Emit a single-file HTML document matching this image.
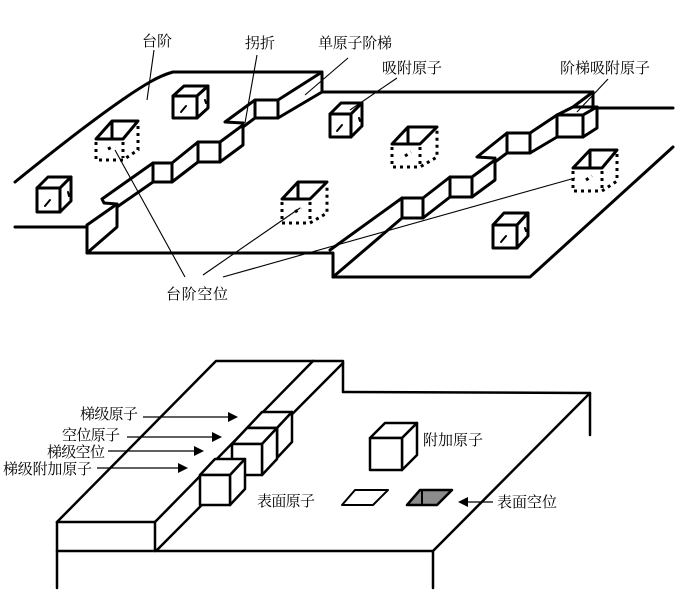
<!DOCTYPE html>
<html><head><meta charset="utf-8"><style>
html,body{margin:0;padding:0;background:#fff;}
svg{display:block;}
text{font-family:"Liberation Serif","Noto Serif CJK SC","Noto Sans CJK SC",serif;font-size:15px;fill:#000;}
</style></head><body>
<svg width="685" height="599" viewBox="0 0 685 599" xmlns="http://www.w3.org/2000/svg">
<g fill="none" stroke="#000" stroke-width="3" stroke-linejoin="round" stroke-linecap="round">
<!-- upper terrace outline -->
<path d="M15,182 Q110,105 150,82 Q162,75 173,72 L322,72 L322,92 L593,92"/>
<!-- upper step top edge -->
<path d="M322,72 L278,100 L255,100 L225,122 L243,123 M243,125 L220,142 L198,142 L172,163 L153,163 L102,199 L104,203 L117,204 L87,225 L87,227 L15,227"/>
<!-- upper step lower edges -->
<path d="M322,92 L278,118 M255,118 L243,127 M243,123 L243,145 L220,162 M198,162 L172,182 M153,182 L117,207 M117,204 L117,227 L87,253 M87,225 L87,253 L333,253 L333,277 L530,277 L673,147"/>
<rect x="255" y="100" width="23" height="18" fill="#fff"/>
<rect x="198" y="142" width="22" height="20" fill="#fff"/>
<rect x="153" y="163" width="19" height="19" fill="#fff"/>
<!-- middle step -->
<path d="M593,92 L593,108 M597,108 L673,108"/>
<path d="M593,92 L573,107"/>
<path d="M557,115 L530,133 M507,133 L477,157 L493,158 M495,160 L472,177 M450,177 L423,198 M402,198 L330,250"/>
<path d="M557,137 L530,153 M507,153 L495,162 M495,158 L495,180 L472,197 M450,197 L423,218 M402,218 L333,277"/>
<polygon points="557,115 573,107 597,107 583,115" fill="#fff"/>
<polygon points="583,115 597,107 597,128 583,137" fill="#fff"/>
<rect x="557" y="115" width="26" height="22" fill="#fff"/>
<rect x="507" y="133" width="23" height="20" fill="#fff"/>
<rect x="450" y="177" width="22" height="20" fill="#fff"/>
<rect x="402" y="198" width="21" height="20" fill="#fff"/>
</g>

<!-- solid cubes (top) -->
<g fill="#fff" stroke="#000" stroke-width="3" stroke-linejoin="round">
<!-- A -->
<polygon points="173,96 184,86 208,86 197,96"/>
<polygon points="197,96 208,86 208,108 197,118"/>
<rect x="173" y="96" width="24" height="22"/>
<!-- B -->
<polygon points="37,188 48,177 71,177 60,188"/>
<polygon points="60,188 71,177 71,201 60,212"/>
<rect x="37" y="188" width="23" height="24"/>
<!-- C -->
<polygon points="330,114 341,103 362,103 351,114"/>
<polygon points="351,114 362,103 362,126 351,137"/>
<rect x="330" y="114" width="21" height="23"/>
<!-- D -->
<polygon points="493,225 504,213 528,213 517,225"/>
<polygon points="517,225 528,213 528,236 517,248"/>
<rect x="493" y="225" width="24" height="23"/>
</g>
<g stroke="#000" stroke-width="2" stroke-linecap="round">
<path d="M181,112 L186,106 M205,100 L206,103 M45,206 L50,200 M68,192 L69,196 M337,131 L342,125 M359,118 L360,121 M501,242 L506,236 M525,228 L526,231"/>
</g>

<!-- vacancies -->
<g fill="none" stroke="#000" stroke-width="3" stroke-linejoin="round">
<polygon points="96,139 112,121 138,121 123,139"/>
<path d="M112,121 L112,140"/>
<polygon points="282,199 298,182 327,182 310,199"/>
<path d="M298,182 L298,199"/>
<polygon points="392,144 408,127 437,127 420,144"/>
<path d="M408,127 L408,144"/>
<polygon points="573,168 590,150 617,150 602,168"/>
<path d="M590,150 L590,168"/>
</g>
<g fill="none" stroke="#000" stroke-width="3" stroke-dasharray="3,4">
<path d="M96,142 L96,160 L123,160 L138,150 L138,124 M123,142 L123,158 M108,149 L114,146"/>
<path d="M282,202 L282,223 L310,223 L327,213 L327,185 M310,202 L310,221 M295,212 L301,208"/>
<path d="M392,147 L392,167 L420,167 L437,157 L437,130 M420,147 L420,165 M405,156 L411,152"/>
<path d="M573,171 L573,191 L602,191 L617,181 L617,153 M602,171 L602,189 M586,180 L592,176"/>
</g>

<!-- leader lines top -->
<g stroke="#000" stroke-width="1.1" fill="none">
<path d="M154,50 L147,100"/>
<path d="M257,55 L245,123"/>
<path d="M348,58 L305,95"/>
<path d="M397,78 L350,110"/>
<path d="M608,79 L577,112"/>
<path d="M185,277 L115,150"/>
<path d="M203,275 L300,208"/>
<path d="M223,277 L575,178"/>
</g>

<!-- top labels -->
<text x="142" y="46">台阶</text>
<text x="245" y="48">拐折</text>
<text x="318" y="48" textLength="74" lengthAdjust="spacing">单原子阶梯</text>
<text x="382" y="73" textLength="60" lengthAdjust="spacing">吸附原子</text>
<text x="560" y="73" textLength="90" lengthAdjust="spacing">阶梯吸附原子</text>
<text x="166" y="299" textLength="62" lengthAdjust="spacing">台阶空位</text>

<!-- bottom diagram -->
<g fill="none" stroke="#000" stroke-width="2.5" stroke-linejoin="round" stroke-linecap="round">
<path d="M57,522 L216,361 L343,361 L343,392"/>
<path d="M313,361 L155,522"/>
<path d="M343,363 L157,550"/>
<path d="M57,522 L155,522 L155,551"/>
<path d="M57,522 L57,588"/>
<path d="M57,551 L433,551"/>
<path d="M343,392 L590,393 L433,551 L433,588"/>
<path d="M590,393 L590,435"/>
</g>
<g fill="#fff" stroke="#000" stroke-width="2.5" stroke-linejoin="round">
<!-- top step cube -->
<polygon points="247,428 262,412 292,412 277,428"/>
<polygon points="277,428 292,412 292,442 277,458"/>
<rect x="247" y="428" width="30" height="30"/>
<!-- middle step cube -->
<polygon points="232,444 247,428 277,428 262,444"/>
<polygon points="262,444 277,428 277,459 262,475"/>
<rect x="232" y="444" width="30" height="31"/>
<!-- lowest step cube -->
<polygon points="200,475 215,459 245,459 230,475"/>
<polygon points="230,475 245,459 245,489 230,505"/>
<rect x="200" y="475" width="30" height="30"/>
<!-- attached atom -->
<polygon points="370,438 385,423 417,423 402,438"/>
<polygon points="402,438 417,423 417,455 402,470"/>
<rect x="370" y="438" width="32" height="32"/>
</g>
<polygon points="342,505 355,490 388,490 373,505" fill="#fff" stroke="#000" stroke-width="2" stroke-linejoin="round"/>
<polygon points="407,505 420,490 452,490 437,505" fill="#8c8c8c" stroke="#000" stroke-width="2.5" stroke-linejoin="round"/>
<path d="M422,491 L422,505" stroke="#000" stroke-width="2"/>

<!-- arrows bottom -->
<g stroke="#000" stroke-width="1.2">
<path d="M143,417 L231,417"/>
<path d="M127,437 L215,437"/>
<path d="M108,451 L197,451"/>
<path d="M97,468 L181,468"/>
<path d="M493,502 L465,502"/>
</g>
<g fill="#000">
<polygon points="238,417 228,412 228,422"/>
<polygon points="222,437 212,432 212,442"/>
<polygon points="204,451 194,446 194,456"/>
<polygon points="188,468 178,463 178,473"/>
<polygon points="458,502 468,497 468,507"/>
</g>

<!-- bottom labels -->
<text x="80" y="419" textLength="58" lengthAdjust="spacing">梯级原子</text>
<text x="62" y="440" textLength="58" lengthAdjust="spacing">空位原子</text>
<text x="47" y="457" textLength="58" lengthAdjust="spacing">梯级空位</text>
<text x="3" y="474" textLength="89" lengthAdjust="spacing">梯级附加原子</text>
<text x="257" y="506" textLength="58" lengthAdjust="spacing">表面原子</text>
<text x="423" y="445" textLength="60" lengthAdjust="spacing">附加原子</text>
<text x="497" y="507" textLength="60" lengthAdjust="spacing">表面空位</text>
</svg>
</body></html>
